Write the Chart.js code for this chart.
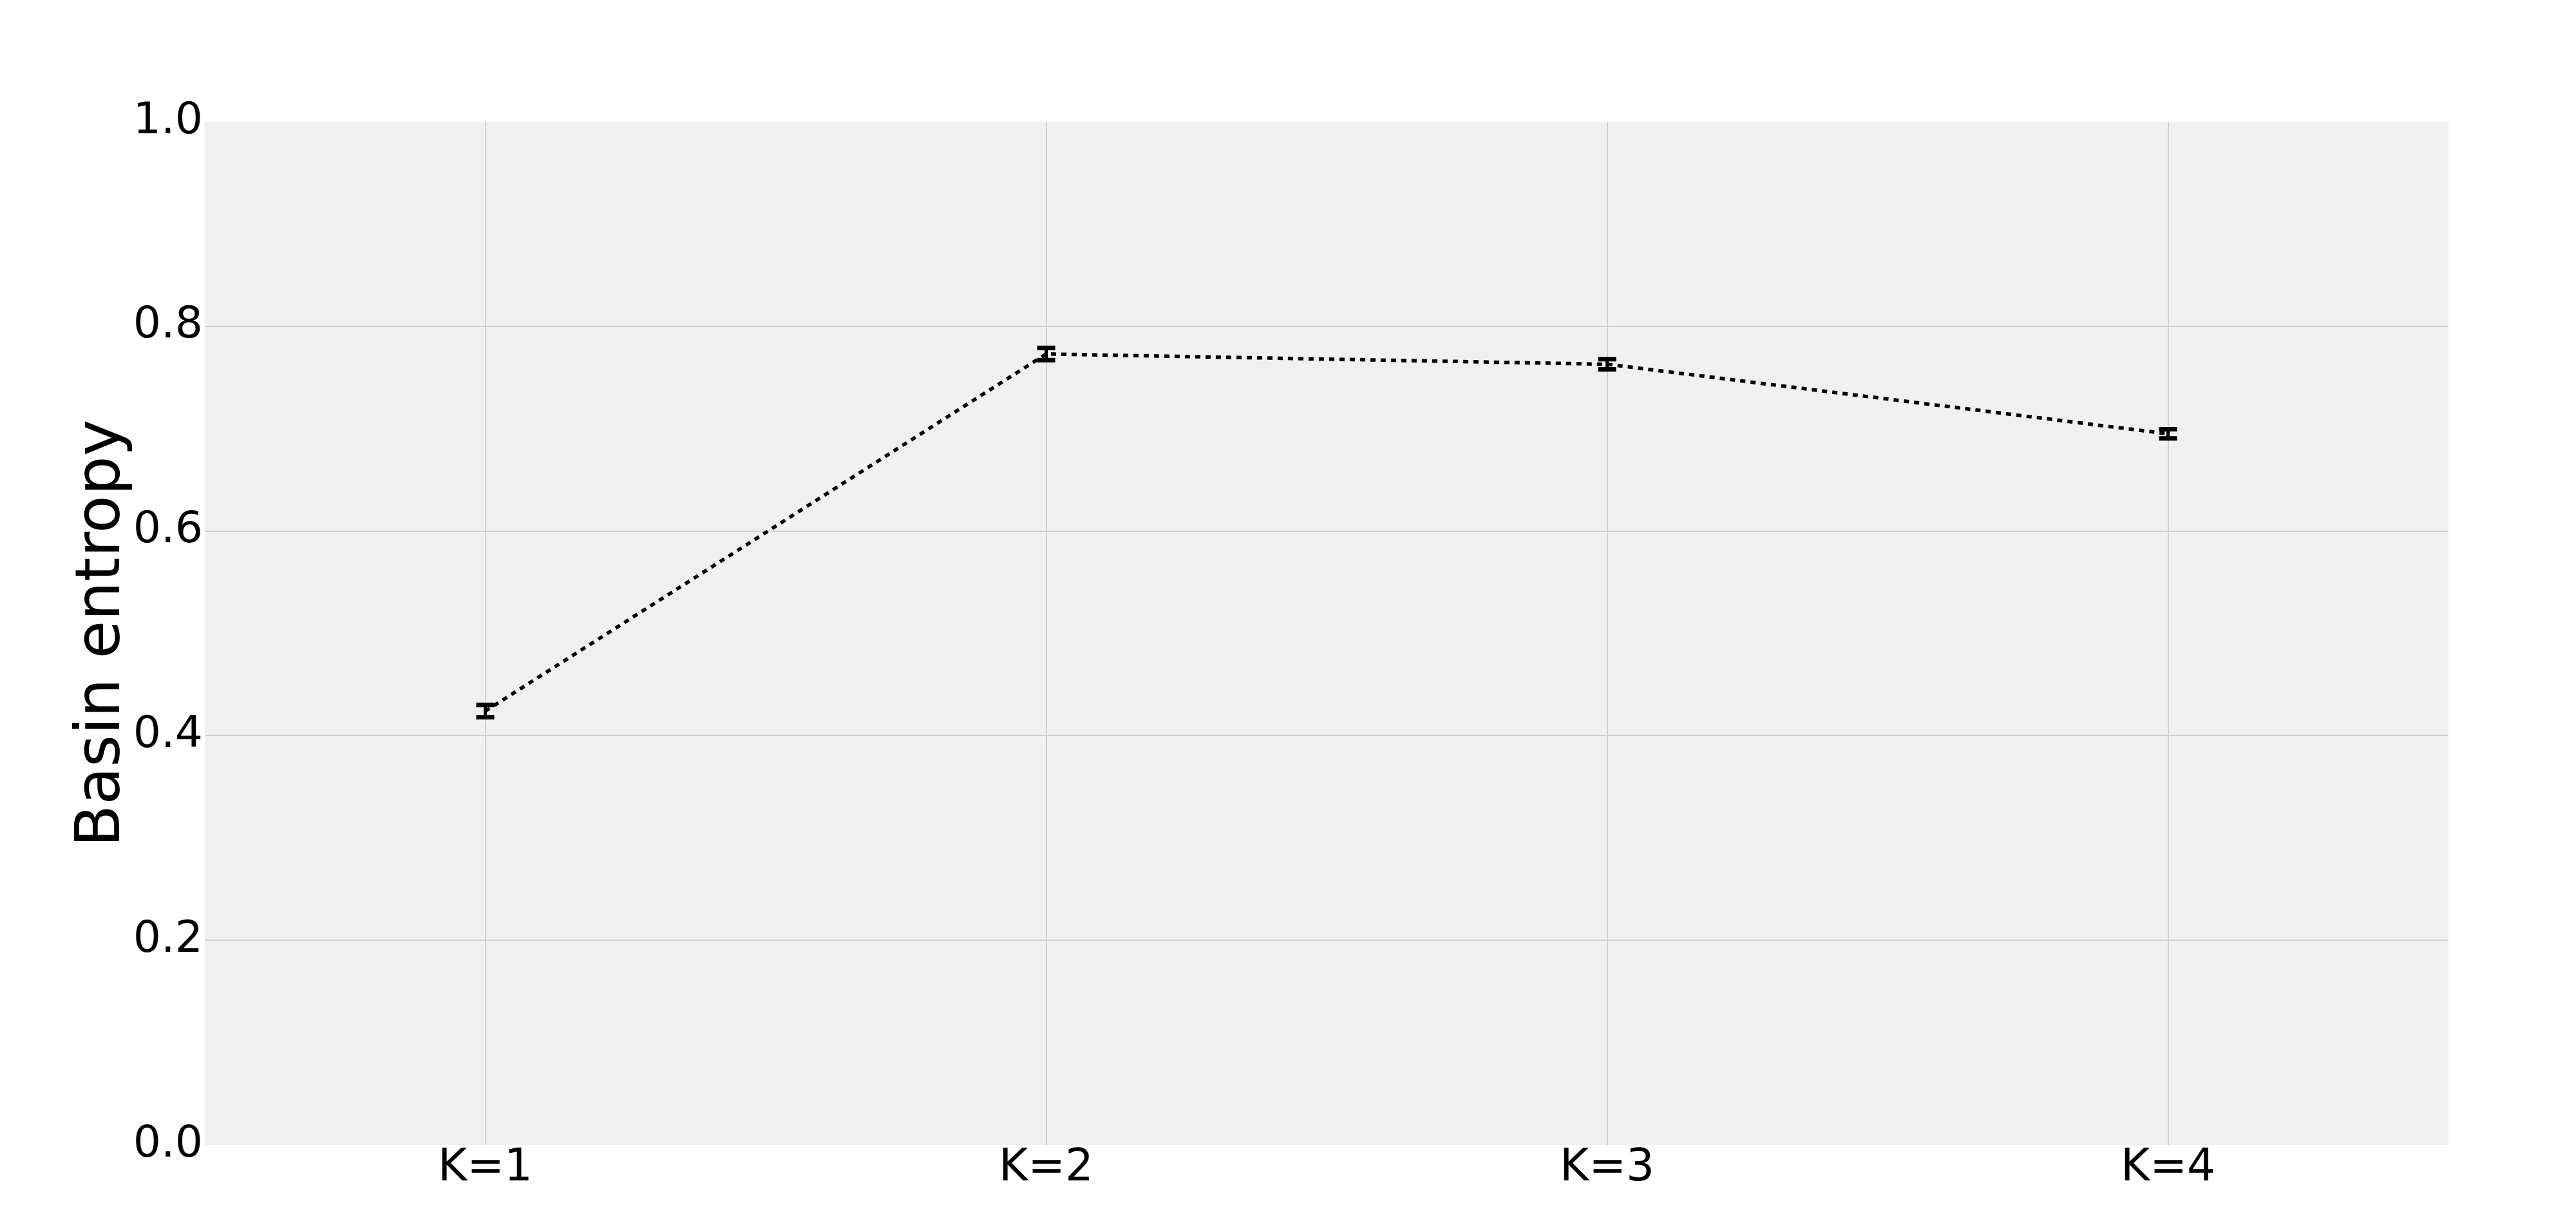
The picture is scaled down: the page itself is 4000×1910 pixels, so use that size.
<!DOCTYPE html>
<html>
<head>
<meta charset="utf-8">
<script src="https://cdn.jsdelivr.net/npm/chart.js@4/dist/chart.umd.min.js"></script>
<style>
  html, body { margin: 0; padding: 0; background: #ffffff; }
  canvas { display: block; }
</style>
</head>
<body>
<canvas id="c" width="4000" height="1910" style="width:4000px;height:1910px"></canvas>
<script>
const categories = ["K=1", "K=2", "K=3", "K=4"];
const entropyValues = [0.424, 0.773, 0.763, 0.695];
const entropyErrors = [0.006, 0.006, 0.005, 0.0045];
const yTickValues = [0.0, 0.2, 0.4, 0.6, 0.8, 1.0];

const plotBackground = {
  id: 'plotBackground',
  beforeDraw(chart) {
    const { ctx, chartArea: a } = chart;
    ctx.save();
    ctx.fillStyle = '#f0f0f0';
    ctx.fillRect(a.left, a.top, a.right - a.left, a.bottom - a.top);
    ctx.restore();
  }
};

const errorBars = {
  id: 'errorBars',
  afterDatasetsDraw(chart) {
    const { ctx, scales } = chart;
    const xs = scales.x, ys = scales.y;
    ctx.save();
    ctx.strokeStyle = '#000000';
    ctx.lineCap = 'butt';
    entropyValues.forEach((v, i) => {
      const x = xs.getPixelForValue(i);
      const yTop = ys.getPixelForValue(v + entropyErrors[i]);
      const yBot = ys.getPixelForValue(v - entropyErrors[i]);
      ctx.lineWidth = 5;
      ctx.beginPath();
      ctx.moveTo(x, yTop);
      ctx.lineTo(x, yBot);
      ctx.stroke();
      ctx.lineWidth = 7;
      ctx.beginPath();
      ctx.moveTo(x - 14, yTop);
      ctx.lineTo(x + 14, yTop);
      ctx.moveTo(x - 14, yBot);
      ctx.lineTo(x + 14, yBot);
      ctx.stroke();
    });
    ctx.restore();
  }
};

new Chart(document.getElementById('c'), {
  type: 'line',
  data: {
    labels: categories,
    datasets: [{
      data: entropyValues,
      borderColor: '#000000',
      borderWidth: 5.5,
      borderDash: [8, 8],
      borderCapStyle: 'butt',
      pointRadius: 0,
      fill: false,
      tension: 0
    }]
  },
  options: {
    responsive: false,
    animation: false,
    devicePixelRatio: 1,
    layout: { padding: { left: 0, top: 189, right: 198, bottom: 0 } },
    plugins: { legend: { display: false }, tooltip: { enabled: false } },
    scales: {
      x: {
        type: 'category',
        offset: true,
        border: { display: false },
        grid: { color: '#d0d0d0', lineWidth: 2, drawTicks: false, offset: false },
        ticks: {
          color: '#000000',
          font: { family: 'DejaVu Sans', size: 69, lineHeight: 1 },
          padding: 3,
          maxRotation: 0,
          autoSkip: false
        },
        afterFit(scale) { scale.height = 132; }
      },
      y: {
        min: 0,
        max: 1,
        border: { display: false },
        grid: {
          drawTicks: false,
          lineWidth: 2,
          color: (c) => (c.tick && (c.tick.value <= 0.0001 || c.tick.value >= 0.9999)) ? 'rgba(0,0,0,0)' : '#d0d0d0'
        },
        afterBuildTicks(scale) { scale.ticks = yTickValues.map(v => ({ value: v })); },
        ticks: {
          color: '#000000',
          font: { family: 'DejaVu Sans', size: 68 },
          padding: 3,
          callback: (v) => Number(v).toFixed(1)
        },
        title: {
          display: true,
          text: 'Basin entropy',
          color: '#000000',
          font: { family: 'DejaVu Sans', size: 96, lineHeight: 1.2 },
          padding: { top: 102, bottom: 0 }
        },
        afterFit(scale) { scale.width = 318; }
      }
    }
  },
  plugins: [plotBackground, errorBars]
});
</script>
</body>
</html>
